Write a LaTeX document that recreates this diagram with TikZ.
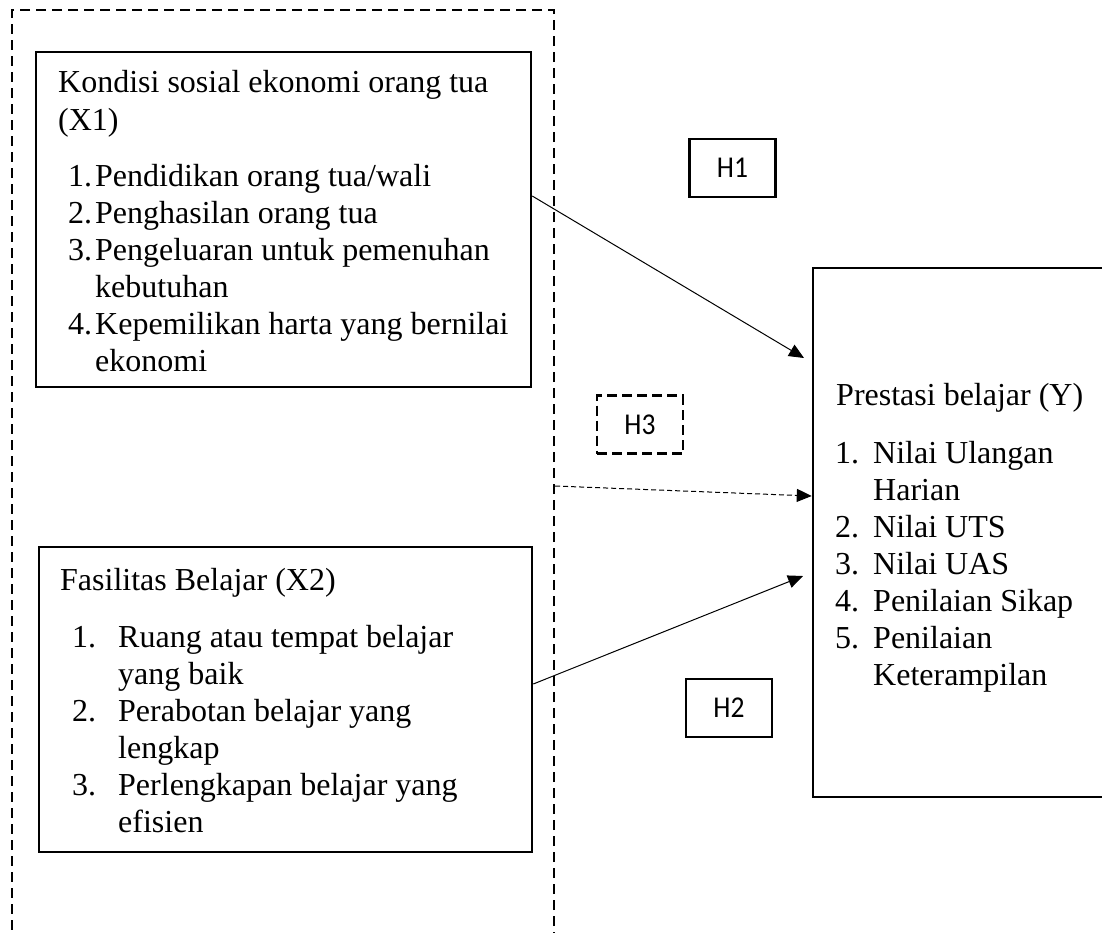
\documentclass[tikz,border=0pt]{standalone}
\usepackage{fontspec}
\setmainfont{Liberation Serif}
\newfontfamily\hfont{Carlito}
\usetikzlibrary{arrows.meta}
\newcommand{\hlabel}[1]{\scalebox{1}[1.1]{#1}}
\begin{document}
\begin{tikzpicture}[x=1pt,y=-1pt,
  solidbox/.style={draw,line width=2.5pt,inner sep=0pt},
  hbox/.style={draw,line width=2.2pt,inner sep=0pt,minimum width=86pt,minimum height=58pt,font=\hfont\fontsize{27.5}{33}\selectfont},
  txt/.style={anchor=base west,inner sep=0pt,font=\fontsize{32}{36.8}\selectfont},
  arr/.style={line width=1pt,-{Triangle[length=15pt,width=13pt]}},
  darr/.style={line width=1pt,dash pattern=on 5pt off 3pt,-{Triangle[length=15pt,width=13pt]}}]
\useasboundingbox (0,0) rectangle (1102,932);
% outer dashed group
\node[draw,line width=2.3pt,dash pattern=on 10pt off 6pt,inner sep=0pt,minimum width=542pt,minimum height=950pt] (grp) at (283,485) {};
% boxes
\node[solidbox,minimum width=495pt,minimum height=335pt] (x1) at (283.5,219.5) {};
\node[solidbox,minimum width=493pt,minimum height=305pt] (x2) at (285.5,699.5) {};
\node[solidbox,minimum width=307pt,minimum height=529pt] (y) at (966.5,532.5) {};
\node[hbox] (h1) at (732.5,168) {\hlabel{H1}};
\node[hbox] (h2) at (729,708) {\hlabel{H2}};
\node[hbox,dash pattern=on 10pt off 5pt] (h3) at (640,424.5) {\hlabel{H3}};
% X1 text
\node[txt] (x1t1) at (58,92) {Kondisi sosial ekonomi orang tua};
\node[txt] (x1t2) at (58,130) {(X1)};
\node[txt] (x1n1) at (68,186) {1.};
\node[txt] (x1i1) at (95,186) {Pendidikan orang tua/wali};
\node[txt] (x1n2) at (68,223) {2.};
\node[txt] (x1i2) at (95,223) {Penghasilan orang tua};
\node[txt] (x1n3) at (68,260) {3.};
\node[txt] (x1i3) at (95,260) {Pengeluaran untuk pemenuhan};
\node[txt] (x1i3b) at (95,297) {kebutuhan};
\node[txt] (x1n4) at (68,334) {4.};
\node[txt] (x1i4) at (95,334) {Kepemilikan harta yang bernilai};
\node[txt] (x1i4b) at (95,371) {ekonomi};
% X2 text
\node[txt] (x2t1) at (60,590) {Fasilitas Belajar (X2)};
\node[txt] (x2n1) at (72,647) {1.};
\node[txt] (x2i1) at (118,647) {Ruang atau tempat belajar};
\node[txt] (x2i1b) at (118,684) {yang baik};
\node[txt] (x2n2) at (72,721) {2.};
\node[txt] (x2i2) at (118,721) {Perabotan belajar yang};
\node[txt] (x2i2b) at (118,758) {lengkap};
\node[txt] (x2n3) at (72,795) {3.};
\node[txt] (x2i3) at (118,795) {Perlengkapan belajar yang};
\node[txt] (x2i3b) at (118,832) {efisien};
% Y text
\node[txt] (yt1) at (836,405) {Prestasi belajar (Y)};
\node[txt] (yn1) at (835,463) {1.};
\node[txt] (yi1) at (873,463) {Nilai Ulangan};
\node[txt] (yi1b) at (873,500) {Harian};
\node[txt] (yn2) at (835,537) {2.};
\node[txt] (yi2) at (873,537) {Nilai UTS};
\node[txt] (yn3) at (835,574) {3.};
\node[txt] (yi3) at (873,574) {Nilai UAS};
\node[txt] (yn4) at (835,611) {4.};
\node[txt] (yi4) at (873,611) {Penilaian Sikap};
\node[txt] (yn5) at (835,648) {5.};
\node[txt] (yi5) at (873,648) {Penilaian};
\node[txt] (yi5b) at (873,685) {Keterampilan};
% connectors
\coordinate (a1s) at (x1.east |- 0,196);
\coordinate (a1e) at (804,358);
\coordinate (a2s) at (x2.east |- 0,684);
\coordinate (a2e) at (803,576);
\coordinate (a3s) at (grp.east |- 0,486);
\coordinate (a3e) at (y.west |- 0,496);
\draw[arr] (a1s) -- (a1e);
\draw[arr] (a2s) -- (a2e);
\draw[darr] (a3s) -- (a3e);
\end{tikzpicture}
\end{document}
